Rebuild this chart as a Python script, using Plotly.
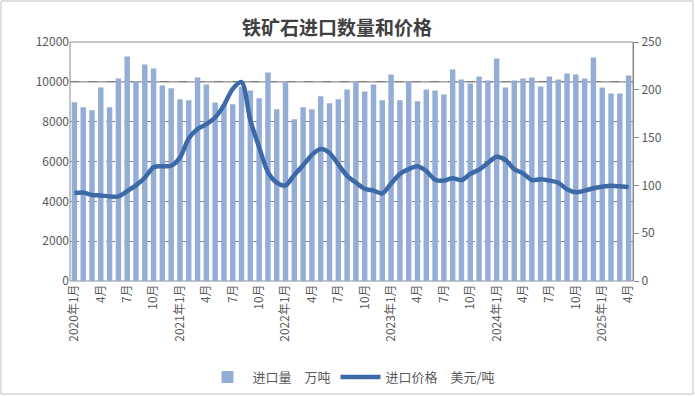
import plotly.graph_objects as go

# ---- data ----
years = [2020, 2021, 2022, 2023, 2024, 2025]
month_labels = []
for y in years:
    for m in range(1, 13):
        if y == 2025 and m > 4:
            break
        month_labels.append(f"{y}年{m}月" if m == 1 else f"{m}月")

import_volume = [  # 万吨
    8970, 8730, 8570, 9720, 8730, 10170, 11270, 10020, 10870, 10670, 9820, 9680,
    9120, 9070, 10220, 9870, 8960, 8850, 8870, 9750, 9570, 9170, 10470, 8620,
    9970, 8120, 8720, 8620, 9270, 8920, 9120, 9620, 9980, 9520, 9870, 9070,
    10370, 9070, 10020, 9020, 9620, 9570, 9370, 10620, 10120, 9920, 10270, 10070,
    11170, 9720, 10070, 10170, 10220, 9770, 10270, 10120, 10420, 10370, 10170, 11220,
    9720, 9420, 9420, 10320,
]
import_price = [  # 美元/吨
    92, 92.5, 90, 89.5, 88.5, 88.5, 94, 100, 108, 119, 120, 120.5,
    129, 149, 159, 164, 171, 184, 201, 208, 168, 140, 114, 103,
    100, 111, 121, 132, 138, 134, 122, 110, 103, 96.5, 94.5, 91.7,
    102, 112, 117, 120, 115, 106, 105, 107.5, 105.6, 112, 116.5, 123.5,
    130, 126.6, 117, 112.6, 105.6, 106.4, 105, 102.8, 96, 92.8, 94.5, 97,
    98.6, 99.7, 99, 98,
]
left_ticks = [0, 2000, 4000, 6000, 8000, 10000, 12000]
right_ticks = [0, 50, 100, 150, 200, 250]
shown_months = ["1月", "4月", "7月", "10月"]

x_idx = list(range(len(month_labels)))
tick_idx = [i for i, lab in enumerate(month_labels) if lab.endswith("年1月") or lab in shown_months]
tick_txt = [month_labels[i] for i in tick_idx]

bar_color = "#94ADD6"
line_color = "#3D6AA6"
text_color = "#595959"
font_family = "Noto Sans CJK SC, Noto Sans, sans-serif"

fig = go.Figure()
fig.add_trace(go.Bar(
    x=x_idx, y=import_volume, name="进口量　万吨",
    marker=dict(color=bar_color, line=dict(width=0)),
    hovertext=month_labels, yaxis="y",
))
fig.add_trace(go.Scatter(
    x=x_idx, y=import_price, name="进口价格　美元/吨",
    mode="lines", line=dict(color=line_color, width=4.5, shape="spline", smoothing=0.8),
    hovertext=month_labels, yaxis="y2",
))

W, H = 695, 396
ml, mr, mt, mb = 70, 62, 42, 115
pw, ph = W - ml - mr, H - mt - mb

fig.update_layout(
    width=W, height=H,
    margin=dict(l=ml, r=mr, t=mt, b=mb, autoexpand=False),
    paper_bgcolor="white", plot_bgcolor="white",
    font=dict(family=font_family, size=12, color=text_color),
    bargap=0.38,
    showlegend=True,
    title=dict(text="<b>铁矿石进口数量和价格</b>", x=337 / W, xref="container", xanchor="center",
               y=1 - 28 / H, yref="container", yanchor="middle",
               font=dict(size=19, color="#404040", family=font_family)),
    legend=dict(orientation="h", x=0.5, xanchor="center", y=(281 - 377) / ph,
                yanchor="middle", font=dict(size=13, color=text_color), itemwidth=40,
                traceorder="normal"),
    xaxis=dict(
        tickmode="array", tickvals=tick_idx, ticktext=tick_txt, automargin=False,
        tickangle=-90, tickfont=dict(size=12, color=text_color),
        showgrid=False, showline=False, ticks="", zeroline=False,
        range=[-0.5, len(month_labels) - 0.5],
    ),
    yaxis=dict(
        range=[0, 12000], tickvals=left_ticks, tickformat="d", automargin=False,
        showgrid=True, gridcolor="#7F7F7F", griddash="dash", gridwidth=1,
        showline=False, ticks="", zeroline=False,
        tickfont=dict(size=12, color=text_color),
    ),
    yaxis2=dict(
        range=[0, 250], tickvals=right_ticks, overlaying="y", side="right", automargin=False,
        showgrid=False, showline=True, linecolor="#868686", linewidth=1,
        ticks="outside", ticklen=5, tickcolor="#868686", zeroline=False,
        tickfont=dict(size=12, color=text_color),
    ),
    shapes=[
        dict(type="line", xref="paper", yref="y", x0=0, x1=1, y0=left_ticks[5], y1=left_ticks[5],
             line=dict(color="#8C8C8C", width=1.2), layer="below"),
        dict(type="rect", xref="paper", yref="paper", x0=0, x1=1, y0=0, y1=1,
             line=dict(color="#8C8C8C", width=1), layer="below"),
        dict(type="rect", xref="paper", yref="paper",
             x0=-(ml - 1) / pw, x1=1 + (mr - 2) / pw, y0=-(mb - 2) / ph, y1=1 + (mt - 1) / ph,
             line=dict(color="#BFBFBF", width=1), layer="below"),
    ],
)

fig.write_html(
    "out.html",
    config={"displayModeBar": False},
    post_script="document.body.style.margin='0';document.body.style.overflow='hidden';",
)
